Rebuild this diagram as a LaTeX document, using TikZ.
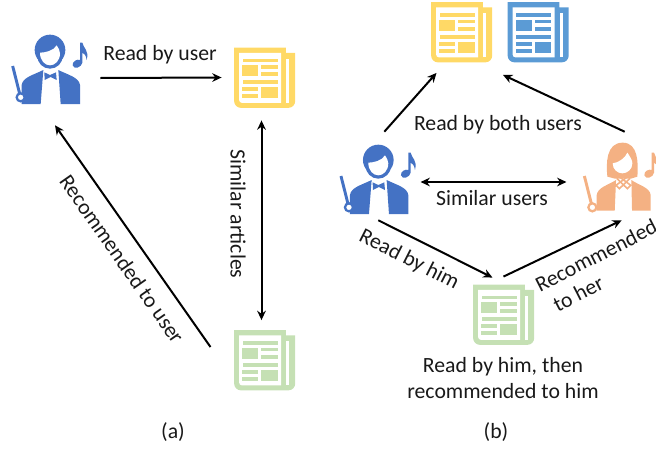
\documentclass[tikz,border=0pt]{standalone}
\usepackage{fontspec}
\setmainfont{Carlito}
\usetikzlibrary{
    arrows.meta,
    positioning,
}
\definecolor{paperYellow}{HTML}{FFD966}
\definecolor{paperBlue}{HTML}{5B9BD5}
\definecolor{paperGreen}{HTML}{C5E0B4}
\definecolor{himBlue}{HTML}{4472C4}
\definecolor{herPeach}{HTML}{F4B183}

\newcommand{\batonNote}[1]{%
    \draw[#1, line width=2.2pt] (38,138) -- (60,225);
    \fill[#1] (240,68) -- (247,68) .. controls (250,85) and (268,90) .. (260,120) .. controls (258,105) and (252,100) .. (247,98) -- (247,128) .. controls (245,142) and (222,150) .. (218,136) .. controls (216,124) and (232,116) .. (240,120) -- cycle;
}

\tikzset{
    pics/newspaper/.style={code={
        \begin{scope}[scale=1/3, shift={(-133,-142)}]
        \fill[#1] (42,52) -- (197,52) -- (197,68) -- (225,68) [rounded corners=5pt] -- (225,233) -- (42,233) [sharp corners] -- (42,52) -- cycle;
        \fill[white] (57,68) -- (183,68) -- (183,218) [rounded corners=2pt] -- (57,218) [sharp corners] -- (57,68) -- cycle;
        \fill[white] (198,85) rectangle (207,218);
        \fill[#1] (68,85) rectangle (172,96);
        \fill[#1] (66,105) rectangle (114,138);
        \fill[#1] (123,105) rectangle (172,116);
        \fill[#1] (123,126) rectangle (172,138);
        \fill[#1] (68,150) rectangle (172,162);
        \fill[#1] (66,171) rectangle (114,183);
        \fill[#1] (66,192) rectangle (114,204);
        \fill[#1] (123,171) rectangle (172,204);
        \end{scope}
    }},
    pics/conductor/.style={code={
        \begin{scope}[scale=1/3, shift={(-150,-150)}]
        \batonNote{#1}
        \fill[#1] (65,252) -- (65,195) .. controls (68,172) and (100,165) .. (130,150) -- (122,252) -- cycle;
        \fill[#1] (240,252) -- (240,195) .. controls (237,172) and (205,165) .. (175,150) -- (182,252) -- cycle;
        \draw[#1, line width=1.7pt, fill=white] (62,232) circle (12);
        \fill[#1] (150,90) ellipse (46 and 46);
        \fill[#1] (150,108) ellipse (38 and 38);
        \fill[white] (120,98) .. controls (135,98) and (162,92) .. (170,76) .. controls (175,85) and (180,90) .. (180,100) .. controls (180,122) and (165,136) .. (150,136) .. controls (135,136) and (120,122) .. (120,98) -- cycle;
        \fill[#1] (133,157) -- (150,165) -- (168,157) -- (170,180) -- (152,171) -- (134,180) -- cycle;
        \end{scope}
    }},
    pics/lady/.style={code={
        \begin{scope}[scale=1/3, shift={(-155,-150)}]
        \begin{scope}[shift={(5,0)}]
        \batonNote{#1}
        \end{scope}
        \fill[#1] (80,242) -- (80,195) .. controls (83,172) and (115,165) .. (138,150) -- (134,242) -- cycle;
        \fill[#1] (242,242) -- (242,195) .. controls (239,172) and (205,165) .. (184,150) -- (186,242) -- cycle;
        \draw[#1, line width=1.7pt, fill=white] (67,232) circle (12);
        \fill[#1] (112,140) .. controls (108,100) and (108,38) .. (158,38) .. controls (205,38) and (205,100) .. (202,140) -- (182,146) -- (135,146) -- cycle;
        \fill[white] (128,100) .. controls (145,98) and (165,85) .. (172,68) .. controls (180,80) and (187,90) .. (187,100) .. controls (187,118) and (172,130) .. (157,130) .. controls (142,130) and (128,118) .. (128,100) -- cycle;
        \draw[#1, line width=1.2pt] (140,145) -- (172,176) -- (182,166) -- (150,142);
        \draw[#1, line width=1.2pt] (180,145) -- (148,176) -- (138,166) -- (170,142);
        \end{scope}
    }},
}

\begin{document}
\begin{tikzpicture}[
    x=0.75pt, y=-0.75pt,
    paperbox/.style={minimum width=46pt, minimum height=46pt, inner sep=0pt},
    personbox/.style={minimum width=57pt, minimum height=57pt, inner sep=0pt},
    link/.style={-{Stealth[length=7pt,width=6.5pt]}, line width=1.5pt, black},
    both/.style={{Stealth[length=7pt,width=6.5pt]}-{Stealth[length=7pt,width=6.5pt]}, line width=1.5pt, black},
    textbox/.style={font=\fontsize{16.3}{19.5}\selectfont, align=center, inner sep=0pt, text=black!90},
]
\useasboundingbox (0,0) rectangle (656,450);

\node[personbox] (himA) at (50,70) {};
\node[paperbox] (readA) at (264.5,77.5) {};
\node[paperbox] (recA) at (264.5,360) {};
\pic at (himA) {conductor=himBlue};
\pic at (readA) {newspaper=paperYellow};
\pic at (recA) {newspaper=paperGreen};

\draw[link] ([shift={(12,8)}]himA.east) -- ([shift={(-12,0)}]readA.west);
\draw[both] ([shift={(-3,12)}]readA.south) -- ([shift={(-3,-9)}]recA.north);
\draw[link] ([shift={(-54,-13)}]recA.center) -- ([shift={(5,17)}]himA.south);

\node[textbox] (readLabelA) at (160,55) {Read by user};
\node[textbox, rotate=-90] (simLabelA) at (238,214) {Similar articles};
\node[textbox, rotate=-55] (recLabelA) at (122,259) {Recommended to user};
\node[textbox] (capA) at (173,432) {(a)};

\node[paperbox] (readBoth) at (461.5,32) {};
\node[paperbox] (readOther) at (538,32) {};
\node[personbox] (himB) at (378.3,180) {};
\node[personbox] (herB) at (621.7,180) {};
\node[paperbox] (recB) at (503.5,314.5) {};
\pic at (readBoth) {newspaper=paperYellow};
\pic at (readOther) {newspaper=paperBlue};
\pic at (himB) {conductor=himBlue};
\pic at (herB) {lady=herPeach};
\pic at (recB) {newspaper=paperGreen};

\draw[link] ([shift={(6,-10)}]himB.north) -- ([shift={(-25,10)}]readBoth.south);
\draw[link] ([shift={(3,-10)}]herB.north) -- ([shift={(-35,12)}]readOther.south);
\draw[both] ([shift={(4,2)}]himB.east) -- ([shift={(-17,2)}]herB.west);
\draw[link] ([shift={(0,2)}]himB.south) -- ([shift={(-11,-6)}]recB.north);
\draw[link] ([shift={(0,-7)}]recB.north) -- ([shift={(0,2)}]herB.south);

\node[textbox] (bothLabel) at (498,125) {Read by both users};
\node[textbox] (simLabelB) at (492,198) {Similar users};
\node[textbox, rotate=-27] (himLabel) at (409,260) {Read by him};
\node[textbox, rotate=27, align=left] (herLabel) at (602,267) {Recommended\\\hspace{5pt}to her};
\node[textbox] (recLabelB) at (503,378) {Read by him, then\\recommended to him};
\node[textbox] (capB) at (496,432) {(b)};

\end{tikzpicture}
\end{document}
